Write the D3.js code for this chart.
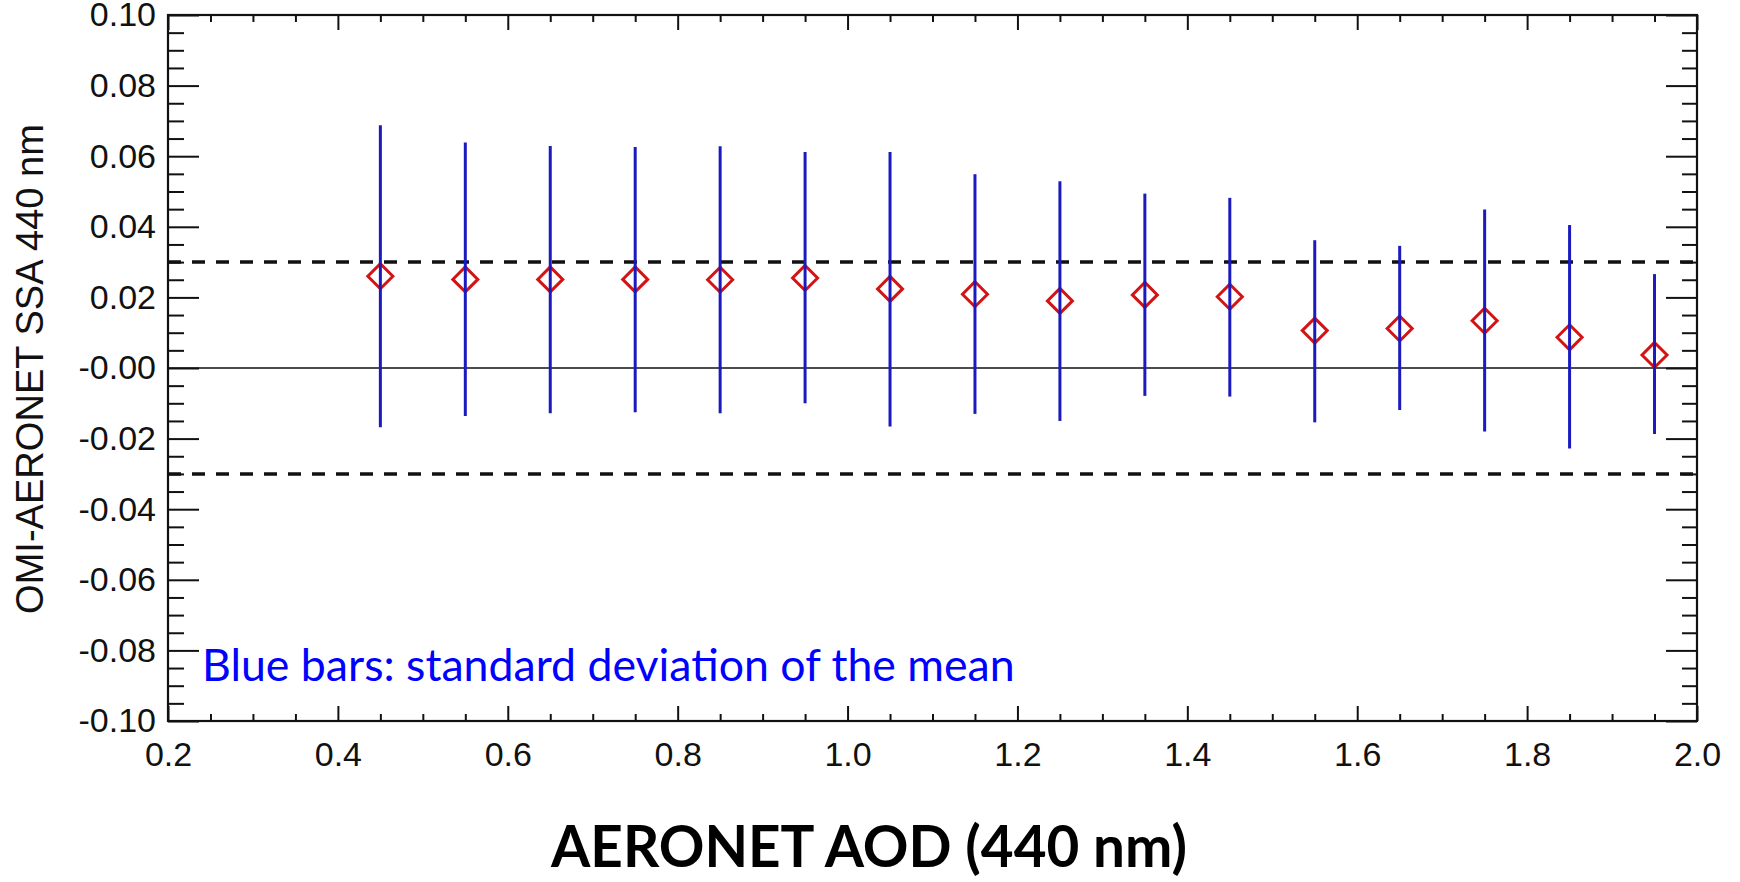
<!DOCTYPE html>
<html>
<head>
<meta charset="utf-8">
<script src="https://cdn.jsdelivr.net/npm/d3@7"></script>
<style>
    html, body { margin: 0; padding: 0; background: #fff; }
    svg { display: block; }
    .tick text { font-family: "Liberation Sans", Arial, Helvetica, sans-serif; fill: #111; }
</style>
</head>
<body>
<svg id="chart"></svg>
<script>
const WIDTH = 1740;
const HEIGHT = 882;
const margin = { top: 15, right: 43, bottom: 161, left: 168 };

// AOD bins (bin centres)
const aod = [0.45, 0.55, 0.65, 0.75, 0.85, 0.95, 1.05, 1.15, 1.25, 1.35, 1.45, 1.55, 1.65, 1.75, 1.85, 1.95];
// mean OMI - AERONET SSA difference
const meanDiff = [0.0260, 0.0251, 0.0251, 0.0251, 0.0250, 0.0255, 0.0224, 0.0209, 0.0190, 0.0207, 0.0202, 0.0106, 0.0112, 0.0134, 0.0087, 0.0037];
// top / bottom of the blue bars
const barTop = [0.0688, 0.0639, 0.0629, 0.0626, 0.0628, 0.0612, 0.0612, 0.0549, 0.0529, 0.0494, 0.0482, 0.0362, 0.0346, 0.0449, 0.0405, 0.0266];
const barBottom = [-0.0168, -0.0136, -0.0128, -0.0125, -0.0128, -0.0100, -0.0166, -0.0130, -0.0150, -0.0079, -0.0081, -0.0154, -0.0119, -0.0180, -0.0228, -0.0187];

const refLines = [0.03, -0.03];

const xTicks = [0.2, 0.4, 0.6, 0.8, 1.0, 1.2, 1.4, 1.6, 1.8, 2.0];
const xTickLabels = ["0.2", "0.4", "0.6", "0.8", "1.0", "1.2", "1.4", "1.6", "1.8", "2.0"];
const yTicks = [0.10, 0.08, 0.06, 0.04, 0.02, 0.00, -0.02, -0.04, -0.06, -0.08, -0.10];
const yTickLabels = ["0.10", "0.08", "0.06", "0.04", "0.02", "-0.00", "-0.02", "-0.04", "-0.06", "-0.08", "-0.10"];

const xTitle = "AERONET AOD (440 nm)";
const yTitle = "OMI-AERONET SSA 440 nm";
const note = "Blue bars: standard deviation of the mean";

const innerW = WIDTH - margin.left - margin.right;
const innerH = HEIGHT - margin.top - margin.bottom;

const svg = d3.select("#chart")
    .attr("width", WIDTH)
    .attr("height", HEIGHT);

const g = svg.append("g")
    .attr("transform", `translate(${margin.left},${margin.top})`);

const x = d3.scaleLinear().domain([0.2, 2.0]).range([0, innerW]);
const y = d3.scaleLinear().domain([-0.10, 0.10]).range([innerH, 0]);

const xMinor = d3.range(0.2, 2.0001, 0.05).filter(v => xTicks.every(t => Math.abs(t - v) > 1e-6));
const yMinor = d3.range(-0.10, 0.10001, 0.005).filter(v => yTicks.every(t => Math.abs(t - v) > 1e-6));

function styleAxis(sel, width) {
    sel.select(".domain").remove();
    sel.selectAll(".tick line").attr("stroke", "#111").attr("stroke-width", width);
}

// bottom axis with labels
g.append("g")
    .attr("transform", `translate(0,${innerH})`)
    .call(d3.axisBottom(x).tickValues(xTicks)
        .tickFormat((d, i) => xTickLabels[i]).tickSize(-15).tickPadding(21))
    .call(s => styleAxis(s, 2))
    .call(s => s.selectAll("text").attr("font-size", 34));
g.append("g")
    .attr("transform", `translate(0,${innerH})`)
    .call(d3.axisBottom(x).tickValues(xMinor).tickFormat("").tickSize(-7))
    .call(s => styleAxis(s, 2));

// top axis, ticks only
g.append("g")
    .call(d3.axisTop(x).tickValues(xTicks).tickFormat("").tickSize(-15))
    .call(s => styleAxis(s, 2));
g.append("g")
    .call(d3.axisTop(x).tickValues(xMinor).tickFormat("").tickSize(-7))
    .call(s => styleAxis(s, 2));

// left axis with labels
g.append("g")
    .call(d3.axisLeft(y).tickValues(yTicks)
        .tickFormat((d, i) => yTickLabels[i]).tickSize(-31).tickPadding(12))
    .call(s => styleAxis(s, 2))
    .call(s => s.selectAll("text").attr("font-size", 34));
g.append("g")
    .call(d3.axisLeft(y).tickValues(yMinor).tickFormat("").tickSize(-16))
    .call(s => styleAxis(s, 2));

// right axis, ticks only
g.append("g")
    .attr("transform", `translate(${innerW},0)`)
    .call(d3.axisRight(y).tickValues(yTicks).tickFormat("").tickSize(-31))
    .call(s => styleAxis(s, 2));
g.append("g")
    .attr("transform", `translate(${innerW},0)`)
    .call(d3.axisRight(y).tickValues(yMinor).tickFormat("").tickSize(-15))
    .call(s => styleAxis(s, 2));

// dashed reference lines
g.selectAll(".ref")
    .data(refLines)
    .join("line")
    .attr("x1", 0)
    .attr("x2", innerW)
    .attr("y1", d => y(d))
    .attr("y2", d => y(d))
    .attr("stroke", "#111")
    .attr("stroke-width", 3.5)
    .attr("stroke-dasharray", "13,11");

// zero line
g.append("line")
    .attr("x1", 0)
    .attr("x2", innerW)
    .attr("y1", y(0))
    .attr("y2", y(0))
    .attr("stroke", "#111")
    .attr("stroke-width", 1.6);

// red diamonds (mean)
const r = 12.5;
g.selectAll(".mean")
    .data(aod)
    .join("path")
    .attr("d", `M0,${-r}L${r},0L0,${r}L${-r},0Z`)
    .attr("transform", (d, i) => `translate(${x(d)},${y(meanDiff[i])})`)
    .attr("fill", "none")
    .attr("stroke", "#d21414")
    .attr("stroke-width", 3);

// blue bars
g.selectAll(".bar")
    .data(aod)
    .join("line")
    .attr("x1", d => x(d))
    .attr("x2", d => x(d))
    .attr("y1", (d, i) => y(barTop[i]))
    .attr("y2", (d, i) => y(barBottom[i]))
    .attr("stroke", "#1a1abf")
    .attr("stroke-width", 3);

// frame
g.append("rect")
    .attr("width", innerW)
    .attr("height", innerH)
    .attr("fill", "none")
    .attr("stroke", "#111")
    .attr("stroke-width", 2.2);

// fit a text element to a target width by scaling its font size
function fitWidth(sel, target) {
    const fs = +sel.attr("font-size");
    const w = sel.node().getComputedTextLength();
    sel.attr("font-size", fs * target / w);
}

// annotation
g.append("text")
    .attr("x", 202 - margin.left)
    .attr("y", 681 - margin.top)
    .attr("font-family", "Lato, 'Open Sans', sans-serif")
    .attr("font-size", 44)
    .attr("fill", "#0000ff")
    .text(note)
    .call(s => fitWidth(s, 813));

// axis titles
svg.append("text")
    .attr("x", 869)
    .attr("y", 867)
    .attr("text-anchor", "middle")
    .attr("font-family", "Lato, 'Open Sans', sans-serif")
    .attr("font-weight", "bold")
    .attr("font-size", 54)
    .attr("fill", "#000")
    .text(xTitle)
    .call(s => fitWidth(s, 636));

svg.append("text")
    .attr("transform", "translate(43,369) rotate(-90)")
    .attr("text-anchor", "middle")
    .attr("font-family", "'Liberation Sans', Arial, Helvetica, sans-serif")
    .attr("font-size", 38)
    .attr("fill", "#111")
    .text(yTitle)
    .call(s => fitWidth(s, 490));
</script>
</body>
</html>
